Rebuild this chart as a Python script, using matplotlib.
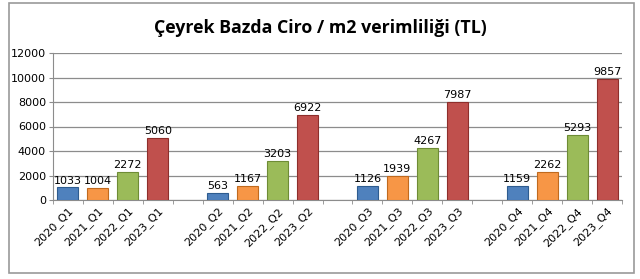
import matplotlib
matplotlib.use("Agg")
import matplotlib.pyplot as plt
from matplotlib.patches import Rectangle

title = "Çeyrek Bazda Ciro / m2 verimliliği (TL)"
quarters = ["Q1", "Q2", "Q3", "Q4"]
years = ["2020", "2021", "2022", "2023"]
values = {
    "Q1": [1033, 1004, 2272, 5060],
    "Q2": [563, 1167, 3203, 6922],
    "Q3": [1126, 1939, 4267, 7987],
    "Q4": [1159, 2262, 5293, 9857],
}
colors = ["#4F81BD", "#F79646", "#9BBB59", "#C0504D"]
edges = ["#2E5C8F", "#C06A1E", "#6E8C35", "#8E2E2B"]
yticks = [0, 2000, 4000, 6000, 8000, 10000, 12000]

fig = plt.figure(figsize=(6.4, 2.79), dpi=100)
fig.patches.append(Rectangle((9/640, 1-273/279), 625/640, 270/279, transform=fig.transFigure,
                             fill=False, edgecolor="#9A9A9A", linewidth=1.2))
ax = fig.add_axes([53/640, 1-200/279, 569/640, 147/279])

labels = []
pos = 0
xs_all = []
for qi, q in enumerate(quarters):
    for yi, yr in enumerate(years):
        v = values[q][yi]
        ax.bar(pos, v, width=0.7, color=colors[yi], edgecolor=edges[yi], linewidth=0.8, zorder=3)
        ax.text(pos, v + 150, str(v), ha="center", va="bottom", fontsize=8, color="black", zorder=4)
        labels.append(f"{yr}_{q}")
        xs_all.append(pos)
        pos += 1
    if qi < len(quarters) - 1:
        labels.append("")
        xs_all.append(pos)
        pos += 1

ax.set_xlim(-0.5, pos - 0.5)
ax.set_ylim(0, 12000)
ax.set_yticks(yticks)
ax.set_yticklabels([str(t) for t in yticks], fontsize=8)
ax.yaxis.grid(True, color="#8C8C8C", linewidth=0.9, zorder=0)
ax.set_axisbelow(True)

ax.set_xticks(xs_all)
ax.set_xticklabels(labels, rotation=45, ha="right", rotation_mode="anchor", fontsize=8)
ax.tick_params(axis="x", length=0, pad=4)
ax.set_xticks([x + 0.5 for x in range(-1, pos)], minor=True)
ax.tick_params(axis="x", which="minor", length=3, color="#8C8C8C")
ax.tick_params(axis="y", length=3, color="#8C8C8C", pad=2)
for s in ["top", "right"]:
    ax.spines[s].set_visible(False)
ax.spines["left"].set_color("#8C8C8C")
ax.spines["bottom"].set_color("#8C8C8C")

fig.text(0.5, 1-28/279, title, ha="center", va="center", fontsize=12.8, fontweight="bold",
         family="Open Sans")

fig.savefig("out.png", dpi=100)
